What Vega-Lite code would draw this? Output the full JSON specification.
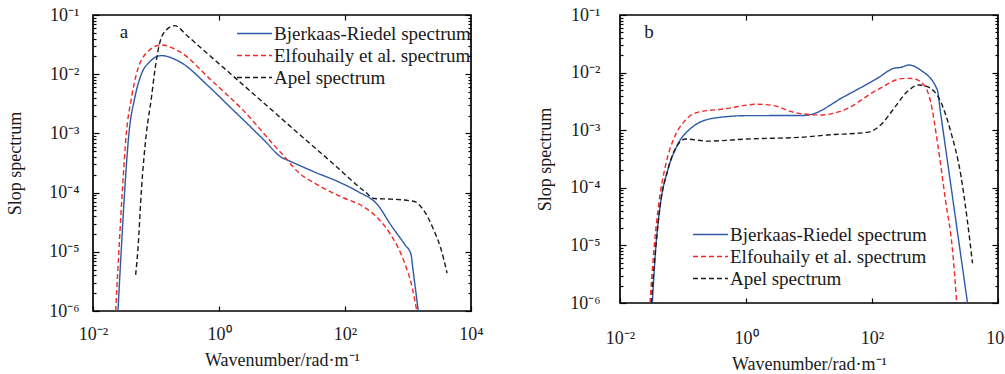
{
  "$schema": "https://vega.github.io/schema/vega-lite/v6.json",
  "padding": 5,
  "config": {
    "font": "'Liberation Serif', 'Times New Roman', serif",
    "view": {"stroke": "#000", "strokeWidth": 1.7},
    "axis": {"domain": false, "grid": false, "labelFont": "'Liberation Serif', 'Times New Roman', serif", "titleFont": "'Liberation Serif', 'Times New Roman', serif", "labelFontSize": 18, "titleFontSize": 18, "titleFontWeight": "normal", "labelColor": "#1a1a1a", "titleColor": "#1a1a1a", "tickColor": "#000", "tickWidth": 1.2, "labelFlush": false, "labelOverlap": false},
    "legend": {"labelFont": "'Liberation Serif', 'Times New Roman', serif", "labelFontSize": 19, "labelColor": "#1a1a1a", "labelLimit": 400},
    "text": {"font": "'Liberation Serif', 'Times New Roman', serif"}
  },
  "datasets": {
    "a": [
      {"m": "Bjerkaas-Riedel spectrum", "k": 0.0249, "s": 1.0e-6},
      {"m": "Bjerkaas-Riedel spectrum", "k": 0.0282, "s": 1.15e-5},
      {"m": "Bjerkaas-Riedel spectrum", "k": 0.0318, "s": 1.05e-4},
      {"m": "Bjerkaas-Riedel spectrum", "k": 0.0372, "s": 1.0e-3},
      {"m": "Bjerkaas-Riedel spectrum", "k": 0.0458, "s": 3.89e-3},
      {"m": "Bjerkaas-Riedel spectrum", "k": 0.0585, "s": 1.0e-2},
      {"m": "Bjerkaas-Riedel spectrum", "k": 0.0794, "s": 1.62e-2},
      {"m": "Bjerkaas-Riedel spectrum", "k": 0.1216, "s": 2.06e-2},
      {"m": "Bjerkaas-Riedel spectrum", "k": 0.238, "s": 1.62e-2},
      {"m": "Bjerkaas-Riedel spectrum", "k": 0.711, "s": 6.0e-3},
      {"m": "Bjerkaas-Riedel spectrum", "k": 1.549, "s": 2.69e-3},
      {"m": "Bjerkaas-Riedel spectrum", "k": 2.40, "s": 1.72e-3},
      {"m": "Bjerkaas-Riedel spectrum", "k": 5.25, "s": 7.6e-4},
      {"m": "Bjerkaas-Riedel spectrum", "k": 10, "s": 3.89e-4},
      {"m": "Bjerkaas-Riedel spectrum", "k": 12, "s": 3.57e-4},
      {"m": "Bjerkaas-Riedel spectrum", "k": 32.4, "s": 2.24e-4},
      {"m": "Bjerkaas-Riedel spectrum", "k": 87.1, "s": 1.45e-4},
      {"m": "Bjerkaas-Riedel spectrum", "k": 158, "s": 1.05e-4},
      {"m": "Bjerkaas-Riedel spectrum", "k": 331, "s": 6.17e-5},
      {"m": "Bjerkaas-Riedel spectrum", "k": 537, "s": 2.82e-5},
      {"m": "Bjerkaas-Riedel spectrum", "k": 891, "s": 1.32e-5},
      {"m": "Bjerkaas-Riedel spectrum", "k": 1114, "s": 9.12e-6},
      {"m": "Bjerkaas-Riedel spectrum", "k": 1200, "s": 5.0e-6},
      {"m": "Bjerkaas-Riedel spectrum", "k": 1455, "s": 1.0e-6},
      {"m": "Elfouhaily et al. spectrum", "k": 0.0229, "s": 1.0e-6},
      {"m": "Elfouhaily et al. spectrum", "k": 0.0259, "s": 1.15e-5},
      {"m": "Elfouhaily et al. spectrum", "k": 0.0292, "s": 1.05e-4},
      {"m": "Elfouhaily et al. spectrum", "k": 0.0338, "s": 1.0e-3},
      {"m": "Elfouhaily et al. spectrum", "k": 0.0406, "s": 3.89e-3},
      {"m": "Elfouhaily et al. spectrum", "k": 0.0488, "s": 1.0e-2},
      {"m": "Elfouhaily et al. spectrum", "k": 0.0661, "s": 2.11e-2},
      {"m": "Elfouhaily et al. spectrum", "k": 0.1216, "s": 3.11e-2},
      {"m": "Elfouhaily et al. spectrum", "k": 0.238, "s": 2.40e-2},
      {"m": "Elfouhaily et al. spectrum", "k": 0.711, "s": 8.4e-3},
      {"m": "Elfouhaily et al. spectrum", "k": 1.0, "s": 6.0e-3},
      {"m": "Elfouhaily et al. spectrum", "k": 2.40, "s": 2.48e-3},
      {"m": "Elfouhaily et al. spectrum", "k": 6.68, "s": 7.24e-4},
      {"m": "Elfouhaily et al. spectrum", "k": 10.9, "s": 4.07e-4},
      {"m": "Elfouhaily et al. spectrum", "k": 17.8, "s": 2.24e-4},
      {"m": "Elfouhaily et al. spectrum", "k": 36.8, "s": 1.35e-4},
      {"m": "Elfouhaily et al. spectrum", "k": 86.3, "s": 8.51e-5},
      {"m": "Elfouhaily et al. spectrum", "k": 204, "s": 5.62e-5},
      {"m": "Elfouhaily et al. spectrum", "k": 331, "s": 3.72e-5},
      {"m": "Elfouhaily et al. spectrum", "k": 537, "s": 1.91e-5},
      {"m": "Elfouhaily et al. spectrum", "k": 871, "s": 6.76e-6},
      {"m": "Elfouhaily et al. spectrum", "k": 1175, "s": 2.40e-6},
      {"m": "Elfouhaily et al. spectrum", "k": 1380, "s": 1.0e-6},
      {"m": "Apel spectrum", "k": 0.0475, "s": 4.07e-6},
      {"m": "Apel spectrum", "k": 0.0518, "s": 1.15e-5},
      {"m": "Apel spectrum", "k": 0.0585, "s": 1.05e-4},
      {"m": "Apel spectrum", "k": 0.0703, "s": 1.0e-3},
      {"m": "Apel spectrum", "k": 0.0843, "s": 3.89e-3},
      {"m": "Apel spectrum", "k": 0.0953, "s": 1.10e-2},
      {"m": "Apel spectrum", "k": 0.114, "s": 3.32e-2},
      {"m": "Apel spectrum", "k": 0.146, "s": 5.58e-2},
      {"m": "Apel spectrum", "k": 0.198, "s": 6.61e-2},
      {"m": "Apel spectrum", "k": 0.303, "s": 4.59e-2},
      {"m": "Apel spectrum", "k": 0.557, "s": 2.59e-2},
      {"m": "Apel spectrum", "k": 1.549, "s": 1.0e-2},
      {"m": "Apel spectrum", "k": 5.25, "s": 3.2e-3},
      {"m": "Apel spectrum", "k": 17.8, "s": 1.02e-3},
      {"m": "Apel spectrum", "k": 60.3, "s": 3.3e-4},
      {"m": "Apel spectrum", "k": 204, "s": 1.05e-4},
      {"m": "Apel spectrum", "k": 292, "s": 7.94e-5},
      {"m": "Apel spectrum", "k": 537, "s": 7.76e-5},
      {"m": "Apel spectrum", "k": 1259, "s": 7.08e-5},
      {"m": "Apel spectrum", "k": 1698, "s": 5.37e-5},
      {"m": "Apel spectrum", "k": 2630, "s": 2.19e-5},
      {"m": "Apel spectrum", "k": 3311, "s": 1.15e-5},
      {"m": "Apel spectrum", "k": 4169, "s": 4.37e-6}
    ],
    "b": [
      {"m": "Bjerkaas-Riedel spectrum", "k": 0.0326, "s": 1.0e-6},
      {"m": "Bjerkaas-Riedel spectrum", "k": 0.0369, "s": 8.91e-6},
      {"m": "Bjerkaas-Riedel spectrum", "k": 0.0443, "s": 5.75e-5},
      {"m": "Bjerkaas-Riedel spectrum", "k": 0.0564, "s": 1.91e-4},
      {"m": "Bjerkaas-Riedel spectrum", "k": 0.0813, "s": 5.50e-4},
      {"m": "Bjerkaas-Riedel spectrum", "k": 0.132, "s": 1.07e-3},
      {"m": "Bjerkaas-Riedel spectrum", "k": 0.310, "s": 1.62e-3},
      {"m": "Bjerkaas-Riedel spectrum", "k": 1.05, "s": 1.79e-3},
      {"m": "Bjerkaas-Riedel spectrum", "k": 8.32, "s": 1.80e-3},
      {"m": "Bjerkaas-Riedel spectrum", "k": 10, "s": 1.84e-3},
      {"m": "Bjerkaas-Riedel spectrum", "k": 36.0, "s": 3.82e-3},
      {"m": "Bjerkaas-Riedel spectrum", "k": 121, "s": 7.94e-3},
      {"m": "Bjerkaas-Riedel spectrum", "k": 224, "s": 1.19e-2},
      {"m": "Bjerkaas-Riedel spectrum", "k": 285, "s": 1.23e-2},
      {"m": "Bjerkaas-Riedel spectrum", "k": 386, "s": 1.355e-2},
      {"m": "Bjerkaas-Riedel spectrum", "k": 589, "s": 1.11e-2},
      {"m": "Bjerkaas-Riedel spectrum", "k": 1089, "s": 5.01e-3},
      {"m": "Bjerkaas-Riedel spectrum", "k": 1202, "s": 2.34e-3},
      {"m": "Bjerkaas-Riedel spectrum", "k": 3281, "s": 1.0e-6},
      {"m": "Elfouhaily et al. spectrum", "k": 0.0299, "s": 1.0e-6},
      {"m": "Elfouhaily et al. spectrum", "k": 0.0347, "s": 8.91e-6},
      {"m": "Elfouhaily et al. spectrum", "k": 0.0417, "s": 5.75e-5},
      {"m": "Elfouhaily et al. spectrum", "k": 0.0531, "s": 2.51e-4},
      {"m": "Elfouhaily et al. spectrum", "k": 0.0719, "s": 7.24e-4},
      {"m": "Elfouhaily et al. spectrum", "k": 0.104, "s": 1.41e-3},
      {"m": "Elfouhaily et al. spectrum", "k": 0.169, "s": 2.04e-3},
      {"m": "Elfouhaily et al. spectrum", "k": 0.448, "s": 2.34e-3},
      {"m": "Elfouhaily et al. spectrum", "k": 1.51, "s": 2.82e-3},
      {"m": "Elfouhaily et al. spectrum", "k": 2.78, "s": 2.67e-3},
      {"m": "Elfouhaily et al. spectrum", "k": 5.78, "s": 2.04e-3},
      {"m": "Elfouhaily et al. spectrum", "k": 15.3, "s": 1.84e-3},
      {"m": "Elfouhaily et al. spectrum", "k": 36.0, "s": 2.24e-3},
      {"m": "Elfouhaily et al. spectrum", "k": 121, "s": 5.01e-3},
      {"m": "Elfouhaily et al. spectrum", "k": 322, "s": 7.94e-3},
      {"m": "Elfouhaily et al. spectrum", "k": 437, "s": 7.9e-3},
      {"m": "Elfouhaily et al. spectrum", "k": 668, "s": 6.10e-3},
      {"m": "Elfouhaily et al. spectrum", "k": 851, "s": 3.13e-3},
      {"m": "Elfouhaily et al. spectrum", "k": 1089, "s": 6.31e-4},
      {"m": "Elfouhaily et al. spectrum", "k": 1479, "s": 5.75e-5},
      {"m": "Elfouhaily et al. spectrum", "k": 1884, "s": 8.91e-6},
      {"m": "Elfouhaily et al. spectrum", "k": 2213, "s": 1.0e-6},
      {"m": "Apel spectrum", "k": 0.0314, "s": 1.0e-6},
      {"m": "Apel spectrum", "k": 0.0369, "s": 8.91e-6},
      {"m": "Apel spectrum", "k": 0.0443, "s": 5.75e-5},
      {"m": "Apel spectrum", "k": 0.0564, "s": 1.91e-4},
      {"m": "Apel spectrum", "k": 0.0766, "s": 4.90e-4},
      {"m": "Apel spectrum", "k": 0.110, "s": 7.03e-4},
      {"m": "Apel spectrum", "k": 0.243, "s": 6.46e-4},
      {"m": "Apel spectrum", "k": 1.05, "s": 7.03e-4},
      {"m": "Apel spectrum", "k": 8.32, "s": 7.59e-4},
      {"m": "Apel spectrum", "k": 19.5, "s": 8.26e-4},
      {"m": "Apel spectrum", "k": 84.1, "s": 9.18e-4},
      {"m": "Apel spectrum", "k": 137, "s": 1.23e-3},
      {"m": "Apel spectrum", "k": 224, "s": 2.40e-3},
      {"m": "Apel spectrum", "k": 363, "s": 4.68e-3},
      {"m": "Apel spectrum", "k": 557, "s": 6.10e-3},
      {"m": "Apel spectrum", "k": 755, "s": 5.70e-3},
      {"m": "Apel spectrum", "k": 1230, "s": 3.13e-3},
      {"m": "Apel spectrum", "k": 1778, "s": 9.44e-4},
      {"m": "Apel spectrum", "k": 2570, "s": 1.66e-4},
      {"m": "Apel spectrum", "k": 3281, "s": 2.57e-5},
      {"m": "Apel spectrum", "k": 3936, "s": 4.90e-6}
    ],
    "la": [{"t": "a", "k": 0.031, "s": 0.0516}],
    "lb": [{"t": "b", "k": 0.0288, "s": 0.0507}]
  },
  "spacing": 51,
  "resolve": {"scale": {"color": "independent", "strokeDash": "independent"}, "legend": {"color": "independent", "strokeDash": "independent"}},
  "hconcat": [
    {
      "width": 378,
      "height": 296,
      "resolve": {"axis": {"x": "independent", "y": "independent"}},
      "layer": [
        {
          "data": {"name": "a"},
          "mark": {"type": "line", "strokeWidth": 1.4, "clip": true, "interpolate": "monotone"},
          "encoding": {
            "x": {"field": "k", "type": "quantitative", "scale": {"type": "log", "domain": [0.01, 10000], "nice": false},
              "axis": {"orient": "bottom", "title": "Wavenumber/rad·m⁻¹", "values": [0.01, 1, 100, 10000], "tickSize": -5, "labelPadding": 19, "titlePadding": 8,
                "labelExpr": "datum.value < 0.1 ? '10⁻²' : datum.value < 10 ? '10⁰' : datum.value < 1000 ? '10²' : '10⁴'"}},
            "y": {"field": "s", "type": "quantitative", "scale": {"type": "log", "domain": [1e-6, 0.1], "nice": false},
              "axis": {"orient": "left", "title": "Slop spectrum", "labelPadding": 20, "titlePadding": 24,
                "values": [1e-6, 2e-6, 3e-6, 4e-6, 5e-6, 6e-6, 7e-6, 8e-6, 9e-6, 1e-5, 2e-5, 3e-5, 4e-5, 5e-5, 6e-5, 7e-5, 8e-5, 9e-5, 1e-4, 2e-4, 3e-4, 4e-4, 5e-4, 6e-4, 7e-4, 8e-4, 9e-4, 1e-3, 2e-3, 3e-3, 4e-3, 5e-3, 6e-3, 7e-3, 8e-3, 9e-3, 0.01, 0.02, 0.03, 0.04, 0.05, 0.06, 0.07, 0.08, 0.09, 0.1],
                "tickSize": {"condition": {"test": "abs(log(datum.value)/LN10 - round(log(datum.value)/LN10)) < 0.001", "value": -6}, "value": -3},
                "labelExpr": "abs(log(datum.value)/LN10 - round(log(datum.value)/LN10)) < 0.001 ? '10' + ['⁻⁶','⁻⁵','⁻⁴','⁻³','⁻²','⁻¹'][round(log(datum.value)/LN10) + 6] : ''"}},
            "color": {"field": "m", "type": "nominal",
              "scale": {"domain": ["Bjerkaas-Riedel spectrum", "Elfouhaily et al. spectrum", "Apel spectrum"], "range": ["#2c5aa8", "#f02828", "#1a1a1a"]},
              "legend": {"title": null, "orient": "none", "legendX": 152, "legendY": 9, "symbolType": "M-2.06,0H2.06", "symbolSize": 289, "symbolStrokeWidth": 1.4, "labelOffset": 10, "rowPadding": 2}},
            "strokeDash": {"field": "m", "type": "nominal",
              "scale": {"domain": ["Bjerkaas-Riedel spectrum", "Elfouhaily et al. spectrum", "Apel spectrum"], "range": [[1, 0], [5, 3], [5, 3]]},
              "legend": {"title": null, "orient": "none", "legendX": 152, "legendY": 9, "symbolType": "M-2.06,0H2.06", "symbolSize": 289, "symbolStrokeWidth": 1.4, "labelOffset": 10, "rowPadding": 2}}
          }
        },
        {
          "data": {"name": "la"},
          "mark": {"type": "text", "fontSize": 19, "align": "center", "baseline": "middle", "color": "#1a1a1a"},
          "encoding": {
            "text": {"field": "t"},
            "x": {"field": "k", "type": "quantitative", "axis": {"orient": "top", "labels": false, "title": null, "values": [1, 100], "tickSize": -5}},
            "y": {"field": "s", "type": "quantitative",
              "axis": {"orient": "right", "labels": false, "title": null,
                "values": [1e-6, 2e-6, 3e-6, 4e-6, 5e-6, 6e-6, 7e-6, 8e-6, 9e-6, 1e-5, 2e-5, 3e-5, 4e-5, 5e-5, 6e-5, 7e-5, 8e-5, 9e-5, 1e-4, 2e-4, 3e-4, 4e-4, 5e-4, 6e-4, 7e-4, 8e-4, 9e-4, 1e-3, 2e-3, 3e-3, 4e-3, 5e-3, 6e-3, 7e-3, 8e-3, 9e-3, 0.01, 0.02, 0.03, 0.04, 0.05, 0.06, 0.07, 0.08, 0.09, 0.1],
                "tickSize": {"condition": {"test": "abs(log(datum.value)/LN10 - round(log(datum.value)/LN10)) < 0.001", "value": -6}, "value": -3}}}
          }
        }
      ]
    },
    {
      "width": 378,
      "height": 288,
      "resolve": {"axis": {"x": "independent", "y": "independent"}},
      "layer": [
        {
          "data": {"name": "b"},
          "mark": {"type": "line", "strokeWidth": 1.4, "clip": true, "interpolate": "monotone"},
          "encoding": {
            "x": {"field": "k", "type": "quantitative", "scale": {"type": "log", "domain": [0.01, 10000], "nice": false},
              "axis": {"orient": "bottom", "title": "Wavenumber/rad·m⁻¹", "values": [0.01, 1, 100, 10000], "tickSize": -5, "labelPadding": 31, "titlePadding": 8,
                "labelExpr": "datum.value < 0.1 ? '10⁻²' : datum.value < 10 ? '10⁰' : datum.value < 1000 ? '10²' : '10⁴'"}},
            "y": {"field": "s", "type": "quantitative", "scale": {"type": "log", "domain": [1e-6, 0.1], "nice": false},
              "axis": {"orient": "left", "title": "Slop spectrum", "labelPadding": 26, "titlePadding": 15,
                "values": [1e-6, 2e-6, 3e-6, 4e-6, 5e-6, 6e-6, 7e-6, 8e-6, 9e-6, 1e-5, 2e-5, 3e-5, 4e-5, 5e-5, 6e-5, 7e-5, 8e-5, 9e-5, 1e-4, 2e-4, 3e-4, 4e-4, 5e-4, 6e-4, 7e-4, 8e-4, 9e-4, 1e-3, 2e-3, 3e-3, 4e-3, 5e-3, 6e-3, 7e-3, 8e-3, 9e-3, 0.01, 0.02, 0.03, 0.04, 0.05, 0.06, 0.07, 0.08, 0.09, 0.1],
                "tickSize": {"condition": {"test": "abs(log(datum.value)/LN10 - round(log(datum.value)/LN10)) < 0.001", "value": -6}, "value": -3},
                "labelExpr": "abs(log(datum.value)/LN10 - round(log(datum.value)/LN10)) < 0.001 ? '10' + ['⁻⁶','⁻⁵','⁻⁴','⁻³','⁻²','⁻¹'][round(log(datum.value)/LN10) + 6] : ''"}},
            "color": {"field": "m", "type": "nominal",
              "scale": {"domain": ["Bjerkaas-Riedel spectrum", "Elfouhaily et al. spectrum", "Apel spectrum"], "range": ["#2c5aa8", "#f02828", "#1a1a1a"]},
              "legend": {"title": null, "orient": "none", "legendX": 81, "legendY": 210, "symbolType": "M-2.06,0H2.06", "symbolSize": 289, "symbolStrokeWidth": 1.4, "labelOffset": 10, "rowPadding": 2}},
            "strokeDash": {"field": "m", "type": "nominal",
              "scale": {"domain": ["Bjerkaas-Riedel spectrum", "Elfouhaily et al. spectrum", "Apel spectrum"], "range": [[1, 0], [5, 3], [5, 3]]},
              "legend": {"title": null, "orient": "none", "legendX": 81, "legendY": 210, "symbolType": "M-2.06,0H2.06", "symbolSize": 289, "symbolStrokeWidth": 1.4, "labelOffset": 10, "rowPadding": 2}}
          }
        },
        {
          "data": {"name": "lb"},
          "mark": {"type": "text", "fontSize": 19, "align": "center", "baseline": "middle", "color": "#1a1a1a"},
          "encoding": {
            "text": {"field": "t"},
            "x": {"field": "k", "type": "quantitative", "axis": {"orient": "top", "labels": false, "title": null, "values": [1, 100], "tickSize": -5}},
            "y": {"field": "s", "type": "quantitative",
              "axis": {"orient": "right", "labels": false, "title": null,
                "values": [1e-6, 2e-6, 3e-6, 4e-6, 5e-6, 6e-6, 7e-6, 8e-6, 9e-6, 1e-5, 2e-5, 3e-5, 4e-5, 5e-5, 6e-5, 7e-5, 8e-5, 9e-5, 1e-4, 2e-4, 3e-4, 4e-4, 5e-4, 6e-4, 7e-4, 8e-4, 9e-4, 1e-3, 2e-3, 3e-3, 4e-3, 5e-3, 6e-3, 7e-3, 8e-3, 9e-3, 0.01, 0.02, 0.03, 0.04, 0.05, 0.06, 0.07, 0.08, 0.09, 0.1],
                "tickSize": {"condition": {"test": "abs(log(datum.value)/LN10 - round(log(datum.value)/LN10)) < 0.001", "value": -6}, "value": -3}}}
          }
        }
      ]
    }
  ]
}
